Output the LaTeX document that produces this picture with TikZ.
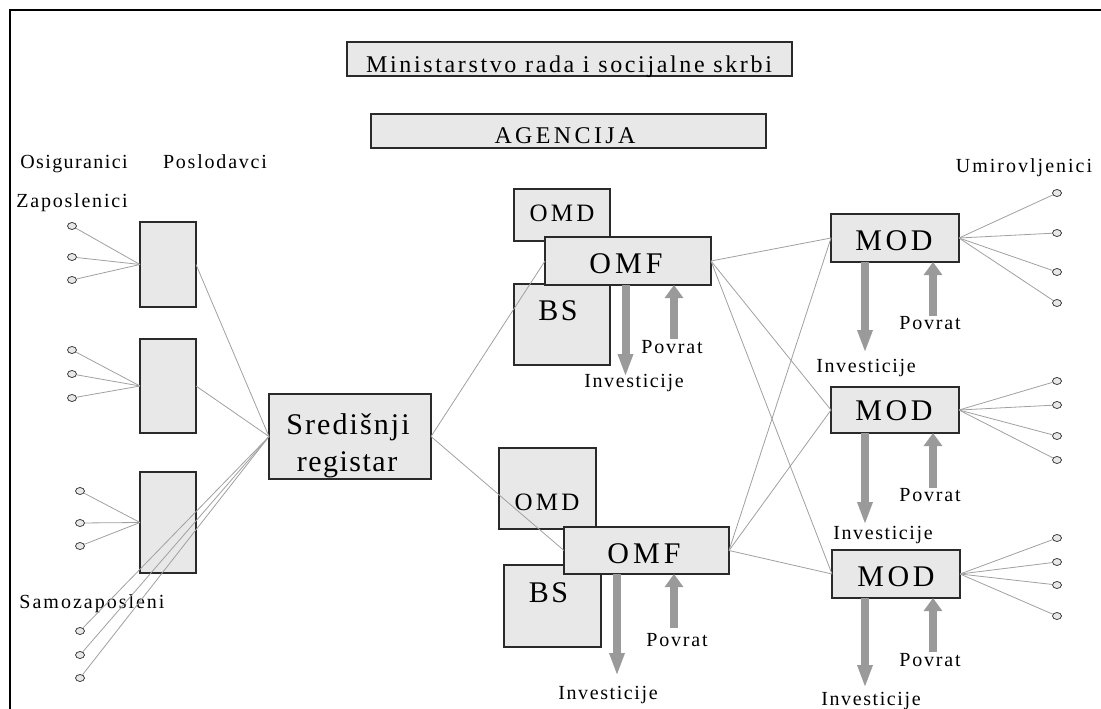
\documentclass[tikz,border=0pt]{standalone}
\usepackage{fontspec}
\setmainfont{Liberation Serif}
\usetikzlibrary{arrows.meta,shapes.geometric}
\definecolor{boxfill}{HTML}{E8E8E8}
\definecolor{boxline}{HTML}{2A2A2A}
\definecolor{conn}{HTML}{A0A0A0}
\definecolor{arrgray}{HTML}{9A9A9A}
\begin{document}
\begin{tikzpicture}[x=1pt,y=-1pt,
  box/.style={draw=boxline, fill=boxfill, line width=1.2pt, inner sep=0pt, outer sep=0pt},
  dot/.style={ellipse, draw=boxline, fill=boxfill, line width=0.7pt, minimum width=9pt, minimum height=7pt, inner sep=0pt},
  cn/.style={draw=conn, line width=0.8pt},
  downarr/.style={draw=arrgray, line width=8pt, -{Triangle[length=23pt,width=14pt]}},
  uparr/.style={draw=arrgray, line width=8pt, -{Triangle[length=13pt,width=18pt]}},
  txt/.style={anchor=base, inner sep=0pt, font={\fontsize{#1}{#1}\selectfont}},
  small/.style={anchor=base, inner sep=0pt, font={\fontsize{20}{24}\selectfont\addfontfeature{LetterSpace=9}}},
  big/.style={anchor=base, inner sep=0pt, font={\fontsize{30}{36}\selectfont\addfontfeature{LetterSpace=12}}},
  mid/.style={anchor=base, inner sep=0pt, font={\fontsize{24}{28}\selectfont\addfontfeature{LetterSpace=11}}}
]
\useasboundingbox (0,0) rectangle (1101,709);
\draw[line width=2pt, draw=black] (10,709) -- (10,10) -- (1101,10);

% boxes
\node[box, minimum width=445pt, minimum height=34pt] (mini) at (569.5,59) {};
\node[box, minimum width=395pt, minimum height=34pt] (agen) at (568.5,131) {};
\node[box, minimum width=56pt, minimum height=85pt] (b1) at (168,264.5) {};
\node[box, minimum width=56pt, minimum height=94pt] (b2) at (168,386) {};
\node[box, minimum width=56pt, minimum height=101pt] (b3) at (168,522.5) {};
\node[box, minimum width=162pt, minimum height=85pt] (reg) at (350,436.5) {};
\node[box, minimum width=96pt, minimum height=52pt] (omd1) at (562,215) {};
\node[box, minimum width=96pt, minimum height=81pt] (bs1) at (562,324.5) {};
\node[box, minimum width=166pt, minimum height=48pt] (omf1) at (628,261) {};
\node[box, minimum width=97pt, minimum height=81pt] (omd2) at (547.5,488.5) {};
\node[box, minimum width=97pt, minimum height=82pt] (bs2) at (552.5,606) {};
\node[box, minimum width=165pt, minimum height=47pt] (omf2) at (646.5,550.5) {};
\node[box, minimum width=128pt, minimum height=48pt] (mod1) at (895,238) {};
\node[box, minimum width=128pt, minimum height=46pt] (mod2) at (895,410) {};
\node[box, minimum width=128pt, minimum height=48pt] (mod3) at (896,574) {};

% texts
\node[mid, font={\fontsize{24}{28}\selectfont\addfontfeature{LetterSpace=11}}] (tmini) at (569,73) {Ministarstvo rada i socijalne skrbi};
\node[mid, font={\fontsize{24}{28}\selectfont\addfontfeature{LetterSpace=14}}] (tagen) at (565,143) {AGENCIJA};
\node[small, font={\fontsize{20}{24}\selectfont\addfontfeature{LetterSpace=7}}] (tosig) at (74,168) {Osiguranici};
\node[small] (tposl) at (215,168) {Poslodavci};
\node[small] (tzap) at (72,207) {Zaposlenici};
\node[small, font={\fontsize{20}{24}\selectfont\addfontfeature{LetterSpace=10}}] (tsamo) at (92,608) {Samozaposleni};
\node[small, font={\fontsize{20}{24}\selectfont\addfontfeature{LetterSpace=10}}] (tumir) at (1024,172) {Umirovljenici};
\node[big, font={\fontsize{30}{36}\selectfont\addfontfeature{LetterSpace=7}}] (treg1) at (348,434) {Središnji};
\node[big, font={\fontsize{30}{36}\selectfont\addfontfeature{LetterSpace=5}}] (treg2) at (347,471) {registar};
\node[mid, font={\fontsize{25}{30}\selectfont\addfontfeature{LetterSpace=13}}] (tomd1) at (562,221) {OMD};
\node[big, font={\fontsize{30}{36}\selectfont\addfontfeature{LetterSpace=14}}] (tomf1) at (626,273) {OMF};
\node[big, font={\fontsize{30}{36}\selectfont\addfontfeature{LetterSpace=8}}] (tbs1) at (558,320) {BS};
\node[mid, font={\fontsize{25}{30}\selectfont\addfontfeature{LetterSpace=13}}] (tomd2) at (547,510) {OMD};
\node[big, font={\fontsize{30}{36}\selectfont\addfontfeature{LetterSpace=14}}] (tomf2) at (644,563) {OMF};
\node[big, font={\fontsize{30}{36}\selectfont\addfontfeature{LetterSpace=8}}] (tbs2) at (548.5,602) {BS};
\node[big] (tmod1) at (894,250) {MOD};
\node[big] (tmod2) at (894,420) {MOD};
\node[big] (tmod3) at (896,586) {MOD};

% arrows
\draw[downarr] (625.5,285) -- (625.5,377);
\draw[uparr] (674,339) -- (674,285);
\draw[downarr] (617,574) -- (617,676);
\draw[uparr] (674,628) -- (674,574);
\draw[downarr] (865,262) -- (865,353);
\draw[uparr] (933,316) -- (933,262);
\draw[downarr] (865,433) -- (865,525);
\draw[uparr] (933,488) -- (933,433);
\draw[downarr] (865,598) -- (865,688);
\draw[uparr] (933,652) -- (933,598);

\node[small] (pov1) at (672,353) {Povrat};
\node[small, font={\fontsize{20}{24}\selectfont\addfontfeature{LetterSpace=8}}] (inv1) at (634,387) {Investicije};
\node[small] (pov2) at (677,646) {Povrat};
\node[small, font={\fontsize{20}{24}\selectfont\addfontfeature{LetterSpace=8}}] (inv2) at (608,699) {Investicije};
\node[small] (pov3) at (930,329) {Povrat};
\node[small, font={\fontsize{20}{24}\selectfont\addfontfeature{LetterSpace=8}}] (inv3) at (866,372) {Investicije};
\node[small] (pov4) at (930,501) {Povrat};
\node[small, font={\fontsize{20}{24}\selectfont\addfontfeature{LetterSpace=8}}] (inv4) at (883,539) {Investicije};
\node[small] (pov5) at (930,666) {Povrat};
\node[small, font={\fontsize{20}{24}\selectfont\addfontfeature{LetterSpace=8}}] (inv5) at (871,705) {Investicije};

% left circles
\node[dot] (c11) at (72,226) {};
\node[dot] (c12) at (72,257) {};
\node[dot] (c13) at (72,280) {};
\node[dot] (c21) at (72,350) {};
\node[dot] (c22) at (72,374) {};
\node[dot] (c23) at (72,398) {};
\node[dot] (c31) at (80,491) {};
\node[dot] (c32) at (80,523) {};
\node[dot] (c33) at (80,546) {};
\node[dot] (s1) at (80,631) {};
\node[dot] (s2) at (80,655) {};
\node[dot] (s3) at (80,678) {};
\foreach \c in {c11,c12,c13} \draw[cn] (\c) -- (b1.west);
\foreach \c in {c21,c22,c23} \draw[cn] (\c) -- (b2.west);
\foreach \c in {c31,c32,c33} \draw[cn] (\c) -- (b3.west);
\foreach \c in {s1,s2,s3} \draw[cn] (\c) -- (reg.west);
\draw[cn] (b1.east) -- (reg.west);
\draw[cn] (b2.east) -- (reg.west);
\draw[cn] (reg.east) -- (omf1.west);
\draw[cn] (reg.east) -- (omf2.west);
\foreach \o in {omf1,omf2} \foreach \m in {mod1,mod2,mod3} \draw[cn] (\o.east) -- (\m.west);

% right circles
\node[dot] (r11) at (1057,193) {};
\node[dot] (r12) at (1057,233) {};
\node[dot] (r13) at (1057,272) {};
\node[dot] (r14) at (1057,303) {};
\node[dot] (r21) at (1057,381) {};
\node[dot] (r22) at (1057,405) {};
\node[dot] (r23) at (1057,436) {};
\node[dot] (r24) at (1057,460) {};
\node[dot] (r31) at (1057,538) {};
\node[dot] (r32) at (1057,562) {};
\node[dot] (r33) at (1057,585) {};
\node[dot] (r34) at (1057,616) {};
\foreach \c in {r11,r12,r13,r14} \draw[cn] (mod1.east) -- (\c);
\foreach \c in {r21,r22,r23,r24} \draw[cn] (mod2.east) -- (\c);
\foreach \c in {r31,r32,r33,r34} \draw[cn] (mod3.east) -- (\c);
\end{tikzpicture}
\end{document}
